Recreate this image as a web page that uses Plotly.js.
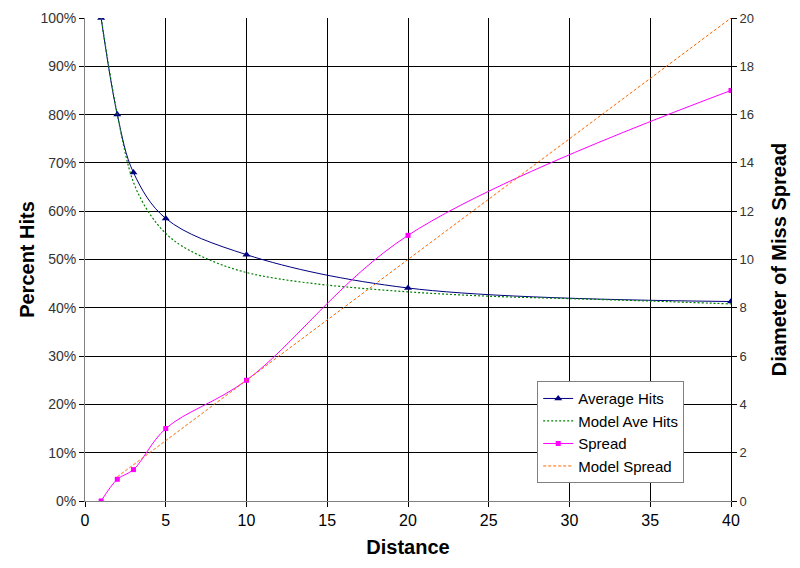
<!DOCTYPE html>
<html>
<head>
<meta charset="utf-8">
<script src="https://cdn.plot.ly/plotly-3.0.1.min.js"></script>
<style>
  html, body { margin: 0; padding: 0; background: #fff; }
  #chart { width: 800px; height: 568px; }
</style>
</head>
<body>
<div id="chart"></div>
<script>
// measured points
const hitDist = [1, 2, 3, 5, 10, 20, 40];
const avgHits = [1.0, 0.80, 0.68, 0.585, 0.51, 0.441, 0.413];
const spread = [0, 0.9, 1.3, 3.0, 5.0, 11.0, 17.0];

// model curves
const modelHitDist = [1, 2, 3, 4, 5, 6, 8, 10, 12, 15, 20, 25, 30, 35, 40];
const modelHits = [1.0, 0.80, 0.66, 0.595, 0.554, 0.528, 0.495, 0.473, 0.46, 0.447, 0.433, 0.424, 0.419, 0.414, 0.408];
const modelSpreadDist = [2, 5, 10, 20, 30, 40];
const modelSpread = [1.0, 2.5, 5.0, 10.0, 15.0, 20.0];

const font = "Liberation Sans, Arial, sans-serif";

const traces = [
  {
    name: "Average Hits",
    x: hitDist,
    y: avgHits,
    type: "scatter",
    mode: "lines+markers",
    line: { color: "#000080", width: 1, shape: "spline", smoothing: 1 },
    marker: { color: "#000080", symbol: "triangle-up", size: 7 },
  },
  {
    name: "Model Ave Hits",
    x: modelHitDist,
    y: modelHits,
    type: "scatter",
    mode: "lines",
    line: { color: "#008000", width: 1.2, dash: "2px,2px", shape: "spline", smoothing: 1 },
  },
  {
    name: "Spread",
    x: hitDist,
    y: spread,
    yaxis: "y2",
    type: "scatter",
    mode: "lines+markers",
    line: { color: "#ff00ff", width: 1, shape: "spline", smoothing: 1 },
    marker: { color: "#ff00ff", symbol: "square", size: 5 },
  },
  {
    name: "Model Spread",
    x: modelSpreadDist,
    y: modelSpread,
    yaxis: "y2",
    type: "scatter",
    mode: "lines",
    line: { color: "#ff6600", width: 1, dash: "3px,2px" },
  },
];

const layout = {
  width: 800,
  height: 568,
  margin: { l: 85, r: 69, t: 18, b: 67 },
  paper_bgcolor: "#ffffff",
  plot_bgcolor: "#ffffff",
  font: { family: font, size: 12, color: "#000" },
  showlegend: true,
  legend: {
    x: 0.70,
    y: 0.248,
    xanchor: "left",
    yanchor: "top",
    bgcolor: "#ffffff",
    bordercolor: "#808080",
    borderwidth: 1,
    font: { family: font, size: 15, color: "#000" },
    tracegroupgap: 0,
    itemwidth: 30,
  },
  xaxis: {
    title: { text: "Distance", font: { family: font, size: 20, weight: "bold" }, standoff: 11 },
    range: [0, 40],
    dtick: 5,
    tick0: 0,
    ticks: "outside",
    ticklen: 5,
    tickcolor: "#000",
    showgrid: true,
    gridcolor: "#000",
    gridwidth: 1,
    showline: true,
    linecolor: "#808080",
    zeroline: false,
    tickfont: { family: font, size: 16 },
  },
  yaxis: {
    title: { text: "Percent Hits", font: { family: font, size: 20, weight: "bold" }, standoff: 0 },
    range: [0, 1],
    dtick: 0.1,
    tickformat: ".0%",
    ticks: "outside",
    ticklen: 5,
    tickcolor: "#000",
    showgrid: true,
    gridcolor: "#000",
    gridwidth: 1,
    showline: true,
    linecolor: "#808080",
    zeroline: false,
    tickfont: { family: font, size: 14, color: "#333" },
  },
  yaxis2: {
    title: { text: "Diameter of Miss Spread", font: { family: font, size: 20, weight: "bold" }, standoff: 18 },
    overlaying: "y",
    side: "right",
    range: [0, 20],
    dtick: 2,
    ticks: "outside",
    ticklen: 5,
    tickcolor: "#000",
    showgrid: false,
    showline: true,
    linecolor: "#000",
    zeroline: false,
    tickfont: { family: font, size: 13, color: "#333" },
  },
};

Plotly.newPlot("chart", traces, layout, { displayModeBar: false, staticPlot: true });
</script>
</body>
</html>
